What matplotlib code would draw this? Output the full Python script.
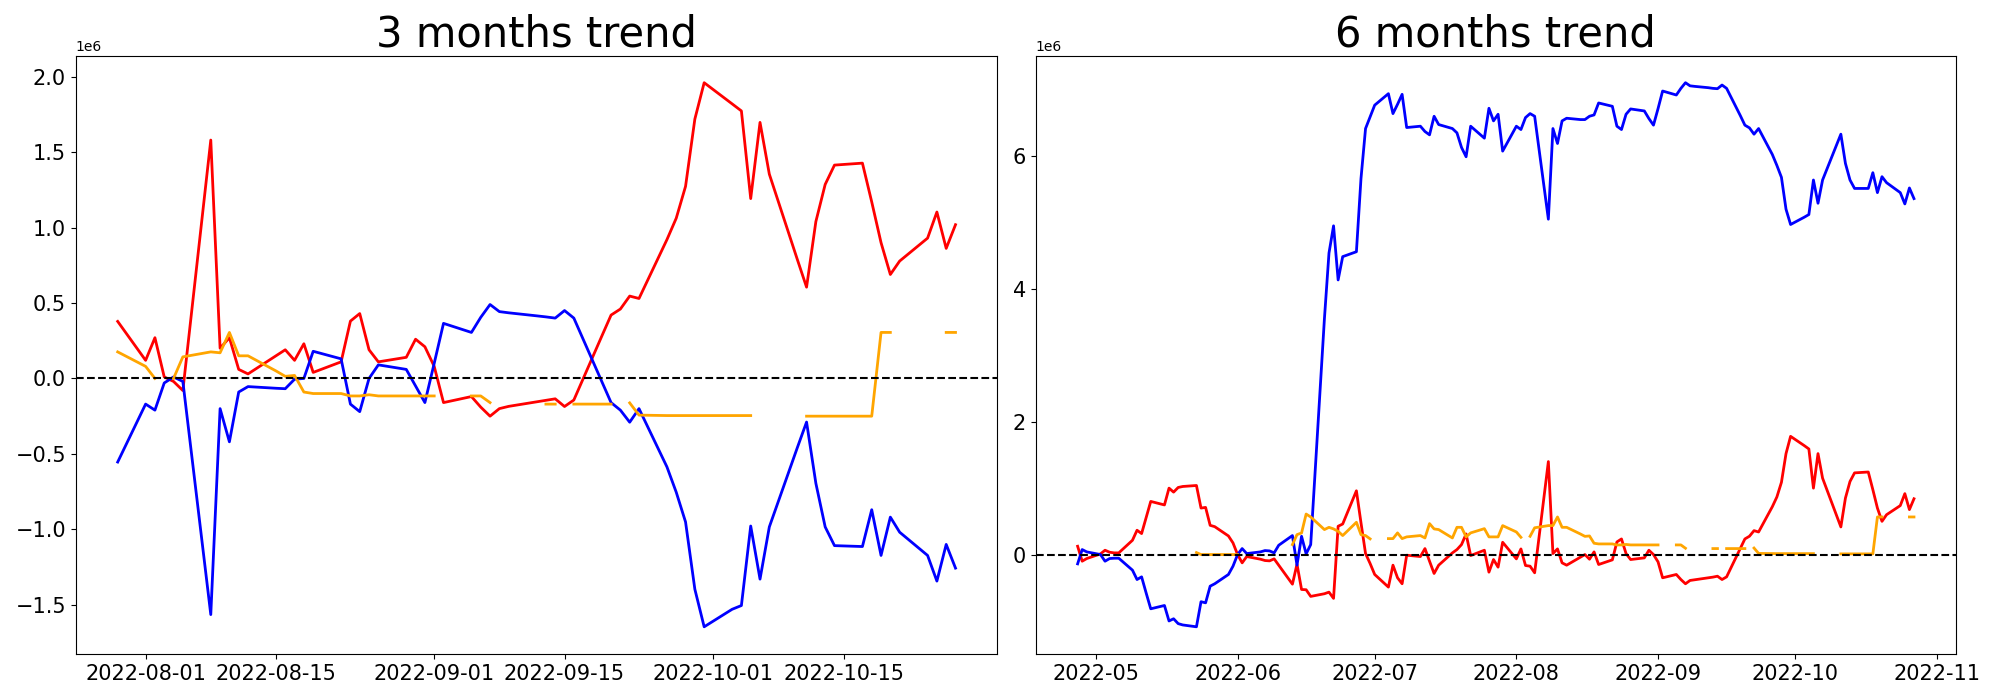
import numpy as np
import pandas as pd
import matplotlib
matplotlib.use("Agg")
import matplotlib.pyplot as plt
import matplotlib.dates as mdates

nan = np.nan

# ---------------- 3 months panel (values in millions) ----------------
dates_3m = pd.bdate_range("2022-07-29", "2022-10-27")

red_3m = [
    0.378,
    0.12, 0.27, 0.01, -0.02, -0.08,
    1.58, 0.20, 0.27, 0.06, 0.03,
    0.15, 0.19, 0.12, 0.23, 0.04,
    0.11, 0.38, 0.43, 0.19, 0.11,
    0.14, 0.26, 0.21, 0.08, -0.16,
    -0.12, -0.19, -0.25, -0.20, -0.185,
    -0.155, -0.145, -0.135, -0.186, -0.143,
    0.28, 0.42, 0.46, 0.546, 0.53,
    0.92, 1.062, 1.273, 1.719, 1.96,
    1.82, 1.773, 1.192, 1.697, 1.354,
    0.79, 0.605, 1.04, 1.286, 1.414,
    1.427, 1.17, 0.90, 0.689, 0.778,
    0.93, 1.103, 0.862, 1.019,
]
blue_3m = [
    -0.554,
    -0.17, -0.21, -0.03, 0.01, -0.02,
    -1.565, -0.20, -0.42, -0.09, -0.054,
    -0.065, -0.068, -0.005, 0.0, 0.18,
    0.13, -0.17, -0.22, 0.0, 0.09,
    0.06, -0.05, -0.16, 0.10, 0.365,
    0.305, 0.405, 0.49, 0.443, 0.435,
    0.415, 0.408, 0.40, 0.45, 0.40,
    -0.02, -0.16, -0.21, -0.29, -0.20,
    -0.586, -0.754, -0.951, -1.397, -1.646,
    -1.53, -1.505, -0.978, -1.33, -0.984,
    -0.46, -0.289, -0.695, -0.984, -1.108,
    -1.114, -0.87, -1.173, -0.919, -1.019,
    -1.173, -1.343, -1.10, -1.257,
]
orange_3m = [
    0.176,
    0.08, 0.0, nan, 0.0, 0.143,
    0.176, 0.17, 0.305, 0.15, 0.15,
    0.05, 0.014, 0.02, -0.09, -0.10,
    -0.10, -0.116, -0.116, -0.108, -0.116,
    -0.116, -0.116, -0.116, -0.116, nan,
    -0.116, -0.116, -0.16, nan, nan,
    nan, -0.17, -0.17, nan, -0.17,
    -0.17, -0.17, nan, -0.162, -0.243,
    -0.246, -0.246, -0.246, -0.246, -0.246,
    -0.246, -0.246, -0.246, nan, nan,
    nan, -0.25, -0.25, -0.25, -0.25,
    -0.25, -0.25, 0.305, 0.305, nan,
    nan, nan, 0.305, 0.305,
]

# ---------------- 6 months panel (values in millions) ----------------
dates_6m = pd.bdate_range("2022-04-27", "2022-10-27")

red_6m = [
    0.125, -0.10, -0.06,
    0.01, 0.065, 0.035, 0.025, 0.025,
    0.215, 0.366, 0.316, 0.56, 0.80,
    0.747, 1.0, 0.94, 1.01, 1.025,
    1.04, 0.70, 0.71, 0.44, 0.42,
    0.28, 0.175,
    0.0, -0.125, -0.03,
    -0.07, -0.09, -0.095, -0.065, -0.16,
    -0.446, -0.145, -0.526, -0.53, -0.63,
    -0.59, -0.566, -0.66, 0.426, 0.46,
    0.96, 0.48, 0.015, -0.135,
    -0.30,
    -0.49, -0.16, -0.35, -0.44, -0.01,
    -0.03, 0.09, -0.10, -0.285, -0.16,
    0.025, 0.075, 0.15, 0.31, -0.015,
    0.065, -0.265, -0.075, -0.19, 0.185,
    -0.065, 0.085, -0.165, -0.175, -0.275,
    1.40, 0.015, 0.085, -0.125, -0.16,
    -0.04, 0.0, -0.07, 0.04, -0.15,
    -0.08, 0.19, 0.235, 0.015, -0.075,
    -0.05, 0.065, 0.0,
    -0.11, -0.35,
    -0.30, -0.376, -0.44, -0.39, -0.38,
    -0.35, -0.34, -0.326, -0.376, -0.336,
    0.09, 0.235, 0.276, 0.36, 0.34,
    0.72, 0.867, 1.088, 1.52, 1.78,
    1.64, 1.59, 1.0, 1.52, 1.15,
    0.60, 0.416, 0.85, 1.10, 1.23,
    1.243, 0.977, 0.70, 0.50, 0.60,
    0.737, 0.917, 0.677, 0.84,
]
blue_6m = [
    -0.14, 0.075, 0.04,
    0.0, -0.10, -0.06, -0.055, -0.055,
    -0.235, -0.376, -0.336, -0.58, -0.817,
    -0.767, -1.0, -0.967, -1.04, -1.06,
    -1.088, -0.71, -0.727, -0.476, -0.44,
    -0.30, -0.175,
    0.0, 0.09, 0.015,
    0.04, 0.06, 0.055, 0.025, 0.14,
    0.286, -0.16, 0.275, 0.01, 0.15,
    3.55, 4.54, 4.95, 4.135, 4.486,
    4.56, 5.66, 6.415, 6.59,
    6.767,
    6.94, 6.64, 6.78, 6.93, 6.43,
    6.45, 6.37, 6.32, 6.6, 6.475,
    6.415, 6.35, 6.13, 5.99, 6.45,
    6.27, 6.72, 6.53, 6.63, 6.075,
    6.45, 6.40, 6.58, 6.64, 6.6,
    5.05, 6.415, 6.19, 6.53, 6.57,
    6.55, 6.55, 6.6, 6.62, 6.8,
    6.75, 6.45, 6.40, 6.63, 6.71,
    6.68, 6.565, 6.466,
    6.715, 6.98,
    6.92, 7.02, 7.105, 7.058, 7.05,
    7.03, 7.02, 7.015, 7.07, 7.02,
    6.61, 6.466, 6.425, 6.33, 6.415,
    6.025, 5.86, 5.68, 5.20, 4.97,
    5.08, 5.12, 5.64, 5.29, 5.64,
    6.16, 6.33, 5.89, 5.64, 5.513,
    5.513, 5.75, 5.45, 5.69, 5.6,
    5.45, 5.28, 5.52, 5.36,
]
orange_6m = [
    nan, nan, nan,
    nan, nan, nan, nan, nan,
    nan, nan, nan, nan, nan,
    nan, nan, nan, nan, nan,
    0.03, 0.0, 0.0, 0.0, 0.0,
    0.0, 0.0,
    0.0, nan, nan,
    nan, nan, nan, nan, nan,
    0.15, 0.30, 0.325, 0.61, 0.566,
    0.376, 0.41, 0.386, 0.35, 0.286,
    0.486, 0.30, 0.286, 0.236,
    nan,
    0.24, 0.24, 0.326, 0.24, 0.266,
    0.286, 0.25, 0.466, 0.386, 0.376,
    0.25, 0.41, 0.41, 0.266, 0.326,
    0.39, 0.266, 0.266, 0.266, 0.436,
    0.34, 0.26, nan, 0.275, 0.403,
    0.436, 0.436, 0.566, 0.41, 0.41,
    0.31, 0.274, 0.28, 0.17, 0.16,
    0.16, 0.145, 0.145, 0.152, 0.145,
    0.145, 0.145, 0.145,
    0.145, nan,
    0.145, 0.145, 0.095, nan, nan,
    nan, 0.09, 0.09, nan, 0.09,
    0.09, 0.09, nan, 0.098, 0.017,
    0.014, 0.014, 0.014, 0.014, 0.014,
    0.014, 0.014, 0.014, nan, nan,
    nan, 0.01, 0.01, 0.01, 0.01,
    0.01, 0.01, 0.566, 0.566, nan,
    nan, nan, 0.566, 0.566,
]

titles = ["3 months trend", "6 months trend"]
SCALE = 1e6

fig = plt.figure(figsize=(20, 7), dpi=100)
ax1 = fig.add_axes([0.0379, 0.0657, 0.4608, 0.855])
ax2 = fig.add_axes([0.5179, 0.0657, 0.4600, 0.855])

panels = [
    (ax1, dates_3m, red_3m, blue_3m, orange_3m, titles[0]),
    (ax2, dates_6m, red_6m, blue_6m, orange_6m, titles[1]),
]

for ax, d, r, b, o, t in panels:
    ax.plot(d, np.array(r) * SCALE, color="red", lw=2)
    ax.plot(d, np.array(b) * SCALE, color="blue", lw=2)
    ax.plot(d, np.array(o) * SCALE, color="orange", lw=2)
    ax.axhline(0, color="black", ls="--", lw=1.5)
    ax.set_title(t, fontsize=30)
    ax.tick_params(axis="both", labelsize=15)

ax1.xaxis.set_major_locator(mdates.DayLocator(bymonthday=[1, 15]))
ax1.xaxis.set_major_formatter(mdates.DateFormatter("%Y-%m-%d"))
ax2.xaxis.set_major_locator(mdates.MonthLocator())
ax2.xaxis.set_major_formatter(mdates.DateFormatter("%Y-%m"))

fig.savefig("out.png", dpi=100)
